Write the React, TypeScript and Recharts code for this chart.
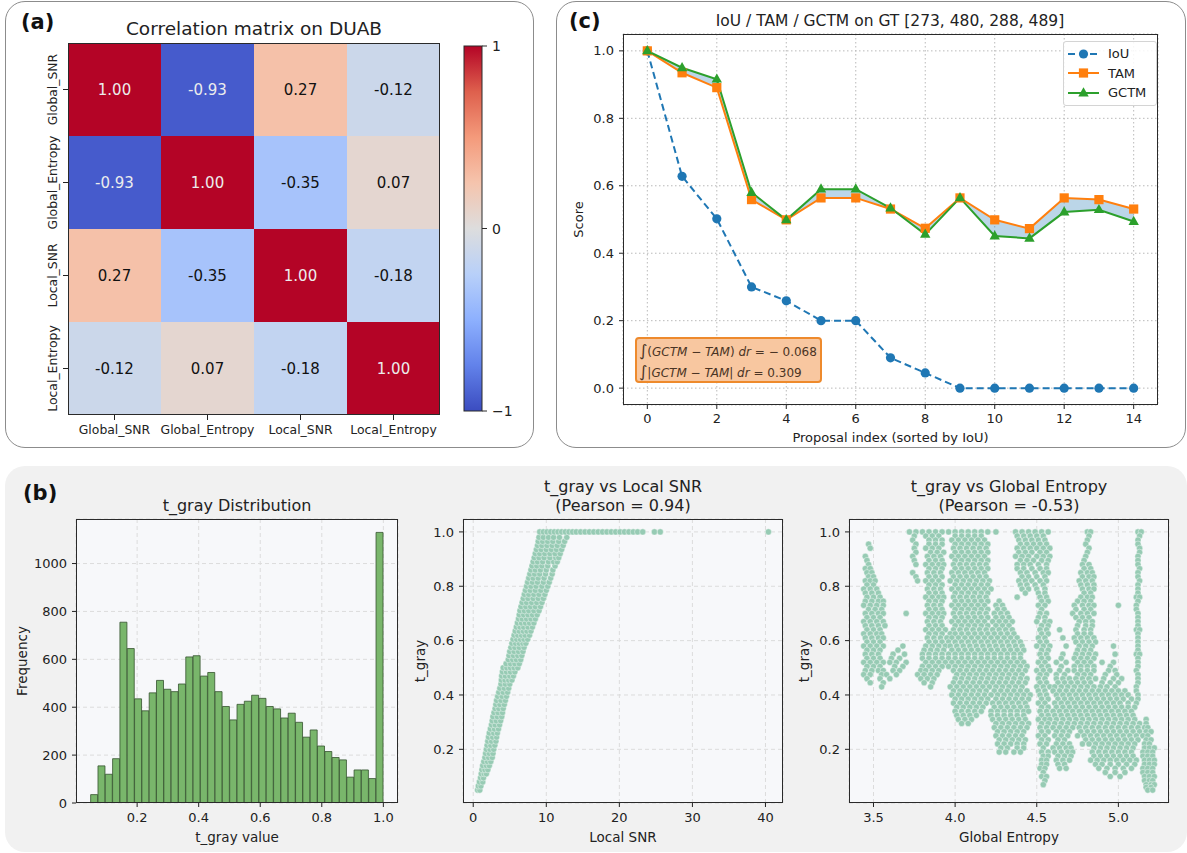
import React from 'react';
import {
  BarChart,
  Bar,
  XAxis,
  YAxis,
  ComposedChart,
  Line,
  Area,
  Legend,
  ScatterChart,
  Scatter,
  CartesianGrid,
  Label,
} from 'recharts';

const FONT = '"DejaVu Sans", Roboto, sans-serif';
const INK = '#222222';

// ---------- (a) correlation matrix ----------
const featureNames = ['Global_SNR', 'Global_Entropy', 'Local_SNR', 'Local_Entropy'];
const corrGlobalSnr = [1.0, -0.93, 0.27, -0.12];
const corrGlobalEntropy = [-0.93, 1.0, -0.35, 0.07];
const corrLocalSnr = [0.27, -0.35, 1.0, -0.18];
const corrLocalEntropy = [-0.12, 0.07, -0.18, 1.0];
const corrMatrix = [corrGlobalSnr, corrGlobalEntropy, corrLocalSnr, corrLocalEntropy];
const colorbarTicks = [1, 0, -1];

// ---------- (c) IoU / TAM / GCTM ----------
const proposalIndex = [0, 1, 2, 3, 4, 5, 6, 7, 8, 9, 10, 11, 12, 13, 14];
const iouScores = [1.0, 0.628, 0.502, 0.3, 0.259, 0.2, 0.2, 0.09, 0.045, 0, 0, 0, 0, 0, 0];
const tamScores = [1.0, 0.935, 0.891, 0.559, 0.499, 0.564, 0.564, 0.531, 0.474, 0.564, 0.499, 0.473, 0.564, 0.559, 0.531];
const gctmScores = [1.0, 0.95, 0.916, 0.58, 0.499, 0.59, 0.59, 0.534, 0.456, 0.564, 0.451, 0.444, 0.522, 0.529, 0.494];
const signedGap = -0.068;
const absGap = 0.309;

// ---------- (b) t_gray histogram ----------
const binCenters = [
  0.0609, 0.08468, 0.10845, 0.13223, 0.156, 0.17978, 0.20355, 0.22733, 0.2511, 0.27488,
  0.29865, 0.32243, 0.3462, 0.36998, 0.39375, 0.41753, 0.4413, 0.46508, 0.48885, 0.51263,
  0.5364, 0.56018, 0.58395, 0.60773, 0.6315, 0.65528, 0.67905, 0.70283, 0.7266, 0.75038,
  0.77415, 0.79793, 0.8217, 0.84548, 0.86925, 0.89303, 0.9168, 0.94058, 0.96435, 0.98813,
];
const binCounts = [
  35, 155, 120, 185, 755, 645, 435, 385, 460, 512,
  475, 465, 497, 610, 615, 530, 545, 465, 403, 347,
  412, 425, 450, 437, 403, 393, 355, 375, 337, 275,
  305, 238, 215, 190, 180, 108, 138, 138, 102, 1130,
];

// ---------- (b) t_gray vs Local SNR : rows of [t_gray, local SNR values] ----------
const snrRows: [number, number[]][] = [
  [0.05, [0.6, 0.9]],
  [0.065, [0.7, 1.05]],
  [0.08, [0.85, 1.3]],
  [0.095, [1.0, 1.4]],
  [0.11, [1.1, 1.5, 1.8]],
  [0.125, [1.2, 1.6, 2.0]],
  [0.14, [1.3, 1.8, 2.2]],
  [0.155, [1.45, 1.95, 2.4]],
  [0.17, [1.6, 2.1, 2.6]],
  [0.185, [1.7, 2.2, 2.7]],
  [0.2, [1.8, 2.3, 2.8]],
  [0.215, [1.9, 2.4, 2.95]],
  [0.23, [2.0, 2.5, 3.1]],
  [0.245, [2.1, 2.65, 3.2]],
  [0.26, [2.2, 2.8, 3.3]],
  [0.275, [2.35, 2.9, 3.45]],
  [0.29, [2.5, 3.0, 3.6]],
  [0.305, [2.6, 3.15, 3.75]],
  [0.32, [2.7, 3.3, 3.9]],
  [0.335, [2.85, 3.4, 4.0]],
  [0.35, [3.0, 3.5, 4.1]],
  [0.365, [3.1, 3.65, 4.25]],
  [0.38, [3.2, 3.8, 4.4]],
  [0.395, [3.35, 3.95, 4.55]],
  [0.41, [3.5, 4.1, 4.7]],
  [0.425, [3.65, 4.25, 4.85]],
  [0.44, [3.8, 4.4, 5.0]],
  [0.455, [3.85, 4.35, 4.85, 5.3]],
  [0.47, [3.9, 4.4, 5.0, 5.5]],
  [0.485, [4.0, 4.55, 5.1, 5.7]],
  [0.5, [4.1, 4.6, 5.1, 5.6, 6.1]],
  [0.515, [4.5, 5.1, 5.7, 6.3]],
  [0.53, [4.8, 5.4, 5.9, 6.5]],
  [0.545, [4.9, 5.5, 6.1, 6.65]],
  [0.56, [5.0, 5.6, 6.2, 6.8]],
  [0.575, [5.15, 5.7, 6.3, 6.95]],
  [0.59, [5.3, 5.8, 6.3, 6.8, 7.2]],
  [0.605, [5.45, 5.95, 6.45, 6.95, 7.45]],
  [0.62, [5.6, 6.1, 6.6, 7.1, 7.7]],
  [0.635, [5.75, 6.3, 6.85, 7.35, 7.9]],
  [0.65, [5.9, 6.4, 6.9, 7.5, 8.1]],
  [0.665, [6.05, 6.6, 7.15, 7.7, 8.3]],
  [0.68, [6.2, 6.7, 7.3, 7.9, 8.5]],
  [0.695, [6.3, 6.9, 7.5, 8.1, 8.75]],
  [0.71, [6.4, 7.0, 7.6, 8.3, 9.0]],
  [0.725, [6.55, 7.2, 7.85, 8.5, 9.2]],
  [0.74, [6.7, 7.3, 8.0, 8.7, 9.4]],
  [0.755, [6.85, 7.5, 8.2, 8.9, 9.6]],
  [0.77, [7.0, 7.6, 8.3, 9.0, 9.8]],
  [0.785, [7.15, 7.8, 8.5, 9.25, 10.0]],
  [0.8, [7.3, 7.9, 8.6, 9.4, 10.2]],
  [0.815, [7.45, 8.1, 8.8, 9.6, 10.4]],
  [0.83, [7.6, 8.2, 8.9, 9.7, 10.6]],
  [0.845, [7.75, 8.4, 9.1, 9.9, 10.8]],
  [0.86, [7.9, 8.5, 9.2, 10.0, 10.9]],
  [0.875, [8.05, 8.7, 9.4, 10.2, 11.2]],
  [0.89, [8.2, 8.8, 9.5, 10.3, 11.0, 11.5]],
  [0.905, [8.35, 9.0, 9.7, 10.5, 11.3, 11.7]],
  [0.92, [8.5, 9.1, 9.8, 10.5, 11.2, 11.9]],
  [0.935, [8.65, 9.3, 10.0, 10.7, 11.4, 12.1]],
  [0.95, [8.8, 9.4, 10.1, 10.8, 11.5, 12.3]],
  [0.965, [8.9, 9.5, 10.2, 10.9, 11.7, 12.5]],
  [0.98, [9.0, 9.6, 10.3, 11.0, 11.8, 12.8]],
  [1.0, [
    9.1, 9.6, 10.1, 10.6, 11.1, 11.6, 12.1, 12.6, 13.1, 13.6, 14.1, 14.7, 15.3, 15.9, 16.5,
    17.1, 17.7, 18.3, 18.9, 19.5, 20.1, 20.7, 21.3, 21.9, 22.5, 23.2, 24.8, 25.6, 40.4,
  ]],
];

// ---------- (b) t_gray vs Global Entropy : rows of [t_gray, entropy values] ----------
const entropyRows: [number, number[]][] = [
  [1.0, [3.72, 3.76, 3.8, 3.84, 3.88, 3.92, 3.96, 4.0, 4.04, 4.08, 4.12, 4.16, 4.2, 4.25, 4.37, 4.41, 4.45, 4.49, 4.53, 4.57, 4.81, 4.83, 5.12, 5.14]],
  [0.985, [3.75, 3.82, 3.86, 3.9, 4.0, 4.04, 4.08, 4.12, 4.16, 4.38, 4.42, 4.46, 4.5, 4.54, 4.82, 5.13]],
  [0.97, [3.74, 3.84, 3.88, 3.92, 3.98, 4.02, 4.06, 4.1, 4.14, 4.18, 4.39, 4.43, 4.47, 4.51, 4.55, 4.81, 5.12]],
  [0.955, [3.47, 3.76, 3.84, 3.88, 3.92, 4.0, 4.04, 4.08, 4.12, 4.16, 4.2, 4.4, 4.44, 4.48, 4.52, 4.56, 4.8, 5.12]],
  [0.94, [3.48, 3.75, 3.82, 3.86, 3.9, 3.99, 4.03, 4.07, 4.11, 4.15, 4.19, 4.38, 4.42, 4.46, 4.5, 4.54, 4.58, 4.82, 5.13]],
  [0.925, [3.76, 3.85, 3.89, 3.93, 4.0, 4.04, 4.08, 4.12, 4.16, 4.2, 4.39, 4.43, 4.47, 4.52, 4.56, 4.81, 5.13]],
  [0.91, [3.45, 3.74, 3.83, 3.87, 3.91, 3.98, 4.02, 4.06, 4.1, 4.14, 4.18, 4.37, 4.41, 4.45, 4.5, 4.54, 4.58, 4.8, 5.12]],
  [0.895, [3.46, 3.75, 3.84, 3.88, 3.92, 4.0, 4.04, 4.08, 4.12, 4.16, 4.2, 4.4, 4.44, 4.48, 4.53, 4.57, 4.79, 5.12]],
  [0.88, [3.47, 3.76, 3.82, 3.86, 3.9, 3.93, 3.99, 4.03, 4.07, 4.11, 4.15, 4.19, 4.38, 4.42, 4.46, 4.51, 4.56, 4.78, 4.82, 5.12]],
  [0.865, [3.45, 3.48, 3.84, 3.88, 3.92, 4.0, 4.04, 4.08, 4.12, 4.16, 4.2, 4.38, 4.42, 4.47, 4.52, 4.56, 4.79, 4.83, 5.13]],
  [0.85, [3.46, 3.49, 3.74, 3.83, 3.87, 3.91, 3.98, 4.02, 4.06, 4.1, 4.14, 4.18, 4.4, 4.44, 4.49, 4.54, 4.57, 4.77, 4.81, 4.84, 5.12]],
  [0.835, [3.47, 3.5, 3.76, 3.84, 3.88, 3.92, 3.99, 4.03, 4.07, 4.11, 4.15, 4.19, 4.41, 4.45, 4.5, 4.55, 4.78, 4.82, 4.85, 5.12]],
  [0.82, [3.45, 3.48, 3.51, 3.77, 3.82, 3.86, 3.9, 3.97, 4.01, 4.05, 4.09, 4.13, 4.17, 4.21, 4.39, 4.43, 4.47, 4.52, 4.56, 4.76, 4.8, 4.84, 5.13]],
  [0.805, [3.46, 3.5, 3.84, 3.88, 3.92, 4.0, 4.04, 4.08, 4.12, 4.16, 4.2, 4.4, 4.44, 4.49, 4.54, 4.77, 4.81, 4.85, 5.12]],
  [0.79, [3.44, 3.48, 3.52, 3.83, 3.87, 3.91, 3.98, 4.02, 4.06, 4.1, 4.14, 4.18, 4.22, 4.41, 4.45, 4.5, 4.55, 4.78, 4.82, 4.85, 5.12]],
  [0.775, [3.45, 3.49, 3.53, 3.84, 3.88, 3.92, 4.0, 4.04, 4.08, 4.12, 4.16, 4.2, 4.43, 4.51, 4.55, 4.79, 4.83, 5.12]],
  [0.76, [3.46, 3.5, 3.54, 3.82, 3.86, 3.9, 3.93, 3.99, 4.03, 4.07, 4.11, 4.15, 4.19, 4.38, 4.52, 4.56, 4.77, 4.81, 4.84, 5.11, 5.13]],
  [0.745, [3.45, 3.49, 3.53, 3.56, 3.84, 3.88, 3.92, 4.0, 4.04, 4.08, 4.12, 4.16, 4.2, 4.27, 4.53, 4.57, 4.75, 4.79, 4.83, 5.12]],
  [0.73, [3.44, 3.48, 3.52, 3.56, 3.83, 3.87, 3.91, 3.98, 4.02, 4.06, 4.1, 4.14, 4.18, 4.25, 4.29, 4.51, 4.55, 4.73, 4.78, 4.82, 4.85, 5.0, 5.11]],
  [0.715, [3.47, 3.51, 3.55, 3.84, 3.88, 3.92, 4.0, 4.04, 4.08, 4.12, 4.16, 4.2, 4.26, 4.3, 4.53, 4.74, 4.79, 4.83, 5.11]],
  [0.7, [3.45, 3.49, 3.53, 3.56, 3.7, 3.82, 3.86, 3.9, 3.93, 3.99, 4.03, 4.07, 4.11, 4.15, 4.19, 4.24, 4.28, 4.32, 4.52, 4.56, 4.72, 4.77, 4.81, 4.85, 5.12]],
  [0.685, [3.46, 3.5, 3.54, 3.84, 3.88, 3.92, 4.0, 4.04, 4.08, 4.12, 4.16, 4.2, 4.25, 4.29, 4.33, 4.51, 4.55, 4.74, 4.78, 4.82, 5.12]],
  [0.67, [3.44, 3.48, 3.52, 3.56, 3.83, 3.87, 3.91, 3.98, 4.02, 4.06, 4.1, 4.14, 4.18, 4.23, 4.27, 4.31, 4.35, 4.5, 4.55, 4.58, 4.76, 4.8, 4.84, 5.12]],
  [0.655, [3.45, 3.49, 3.53, 3.57, 3.84, 3.88, 3.92, 4.0, 4.04, 4.08, 4.12, 4.16, 4.2, 4.25, 4.29, 4.33, 4.53, 4.57, 4.75, 4.8, 4.84, 5.12]],
  [0.64, [3.46, 3.5, 3.54, 3.82, 3.86, 3.9, 3.94, 3.99, 4.03, 4.07, 4.11, 4.15, 4.19, 4.23, 4.27, 4.31, 4.35, 4.52, 4.56, 4.64, 4.74, 4.79, 4.83, 5.11, 5.13]],
  [0.625, [3.44, 3.48, 3.52, 3.55, 3.84, 3.88, 3.92, 3.97, 4.0, 4.04, 4.08, 4.12, 4.16, 4.2, 4.24, 4.28, 4.32, 4.36, 4.53, 4.57, 4.75, 4.79, 4.83, 5.12]],
  [0.61, [3.45, 3.49, 3.53, 3.56, 3.83, 3.87, 3.91, 3.95, 3.98, 4.02, 4.06, 4.1, 4.14, 4.18, 4.22, 4.26, 4.3, 4.34, 4.38, 4.51, 4.55, 4.66, 4.73, 4.77, 4.81, 4.85, 5.12]],
  [0.595, [3.46, 3.5, 3.54, 3.84, 3.88, 3.92, 3.96, 4.0, 4.04, 4.08, 4.12, 4.16, 4.2, 4.24, 4.28, 4.32, 4.36, 4.4, 4.52, 4.56, 4.74, 4.78, 4.82, 4.86, 5.12]],
  [0.58, [3.44, 3.48, 3.52, 3.56, 3.68, 3.82, 3.86, 3.9, 3.94, 3.97, 4.01, 4.05, 4.09, 4.13, 4.17, 4.21, 4.25, 4.29, 4.33, 4.37, 4.41, 4.5, 4.54, 4.58, 4.68, 4.76, 4.8, 4.84, 4.97, 5.12]],
  [0.565, [3.46, 3.5, 3.54, 3.65, 3.81, 3.85, 3.89, 3.93, 3.98, 4.02, 4.06, 4.1, 4.14, 4.18, 4.22, 4.26, 4.3, 4.34, 4.38, 4.42, 4.53, 4.57, 4.75, 4.79, 4.83, 5.12]],
  [0.55, [3.45, 3.49, 3.53, 3.62, 3.69, 3.8, 3.84, 3.88, 3.92, 3.96, 4.0, 4.04, 4.08, 4.12, 4.16, 4.2, 4.24, 4.28, 4.32, 4.36, 4.4, 4.52, 4.56, 4.66, 4.74, 4.78, 4.82, 4.86, 4.98, 5.11, 5.13]],
  [0.535, [3.46, 3.5, 3.54, 3.61, 3.66, 3.8, 3.84, 3.88, 3.92, 3.96, 4.0, 4.04, 4.08, 4.12, 4.16, 4.2, 4.24, 4.28, 4.32, 4.36, 4.4, 4.53, 4.57, 4.65, 4.73, 4.77, 4.81, 4.85, 5.12]],
  [0.52, [3.44, 3.48, 3.52, 3.56, 3.6, 3.64, 3.7, 3.82, 3.86, 3.9, 3.94, 3.98, 4.02, 4.06, 4.1, 4.14, 4.18, 4.22, 4.26, 4.3, 4.34, 4.38, 4.42, 4.51, 4.55, 4.62, 4.68, 4.75, 4.79, 4.83, 4.9, 4.97, 5.12]],
  [0.505, [3.46, 3.5, 3.54, 3.63, 3.68, 3.8, 3.84, 3.88, 3.92, 3.96, 4.0, 4.04, 4.08, 4.12, 4.16, 4.2, 4.24, 4.28, 4.32, 4.36, 4.4, 4.44, 4.53, 4.57, 4.65, 4.73, 4.77, 4.81, 4.85, 4.95, 5.12]],
  [0.49, [3.45, 3.49, 3.53, 3.56, 3.62, 3.66, 3.79, 3.82, 3.86, 3.9, 3.99, 4.03, 4.07, 4.11, 4.15, 4.19, 4.23, 4.27, 4.31, 4.35, 4.39, 4.43, 4.5, 4.54, 4.58, 4.64, 4.69, 4.73, 4.77, 4.81, 4.85, 4.94, 4.98, 5.11]],
  [0.475, [3.44, 3.48, 3.55, 3.58, 3.64, 3.77, 3.81, 3.85, 3.89, 4.01, 4.05, 4.09, 4.13, 4.17, 4.21, 4.25, 4.29, 4.33, 4.37, 4.41, 4.52, 4.56, 4.62, 4.67, 4.75, 4.79, 4.83, 4.92, 4.99, 5.12]],
  [0.46, [3.46, 3.54, 3.6, 3.79, 3.83, 3.87, 4.0, 4.04, 4.08, 4.12, 4.16, 4.2, 4.24, 4.28, 4.32, 4.36, 4.4, 4.44, 4.51, 4.55, 4.62, 4.66, 4.7, 4.74, 4.78, 4.82, 4.86, 4.91, 4.97, 5.02, 5.12]],
  [0.445, [3.48, 3.56, 3.81, 3.86, 3.99, 4.03, 4.07, 4.11, 4.15, 4.19, 4.23, 4.27, 4.31, 4.35, 4.39, 4.43, 4.52, 4.56, 4.63, 4.67, 4.71, 4.75, 4.79, 4.83, 4.9, 4.95, 5.0, 5.12]],
  [0.43, [3.55, 3.85, 3.97, 4.01, 4.05, 4.09, 4.13, 4.17, 4.21, 4.25, 4.29, 4.33, 4.37, 4.41, 4.5, 4.54, 4.58, 4.61, 4.65, 4.69, 4.73, 4.77, 4.81, 4.85, 4.89, 4.93, 4.98, 5.11]],
  [0.415, [3.99, 4.03, 4.07, 4.11, 4.15, 4.19, 4.24, 4.28, 4.32, 4.36, 4.4, 4.44, 4.51, 4.55, 4.6, 4.64, 4.68, 4.72, 4.76, 4.8, 4.84, 4.88, 4.92, 4.96, 5.0, 5.04, 5.11]],
  [0.4, [3.98, 4.02, 4.06, 4.1, 4.14, 4.18, 4.22, 4.26, 4.3, 4.34, 4.38, 4.42, 4.46, 4.52, 4.56, 4.62, 4.66, 4.7, 4.74, 4.78, 4.82, 4.86, 4.9, 4.94, 4.98, 5.02, 5.06, 5.12]],
  [0.385, [4.0, 4.04, 4.08, 4.12, 4.16, 4.2, 4.25, 4.29, 4.33, 4.37, 4.41, 4.45, 4.53, 4.57, 4.63, 4.67, 4.71, 4.75, 4.79, 4.83, 4.87, 4.91, 4.95, 4.99, 5.03, 5.08, 5.12]],
  [0.37, [3.99, 4.03, 4.07, 4.11, 4.15, 4.19, 4.23, 4.27, 4.31, 4.35, 4.39, 4.43, 4.51, 4.55, 4.61, 4.65, 4.69, 4.73, 4.77, 4.81, 4.85, 4.89, 4.93, 4.97, 5.01, 5.06, 5.11]],
  [0.355, [4.01, 4.05, 4.09, 4.13, 4.17, 4.24, 4.28, 4.32, 4.36, 4.4, 4.44, 4.53, 4.57, 4.62, 4.66, 4.7, 4.74, 4.78, 4.82, 4.86, 4.9, 4.94, 4.98, 5.02, 5.06, 5.1]],
  [0.34, [4.0, 4.04, 4.08, 4.12, 4.16, 4.22, 4.26, 4.3, 4.34, 4.38, 4.42, 4.45, 4.52, 4.56, 4.6, 4.64, 4.68, 4.72, 4.76, 4.8, 4.84, 4.88, 4.92, 4.96, 5.0, 5.04, 5.08]],
  [0.325, [4.01, 4.05, 4.09, 4.13, 4.22, 4.26, 4.3, 4.34, 4.38, 4.42, 4.53, 4.57, 4.61, 4.65, 4.69, 4.73, 4.77, 4.81, 4.85, 4.89, 4.93, 4.97, 5.01, 5.05, 5.09]],
  [0.31, [4.02, 4.06, 4.1, 4.23, 4.27, 4.31, 4.35, 4.39, 4.43, 4.51, 4.55, 4.58, 4.62, 4.66, 4.7, 4.74, 4.78, 4.82, 4.86, 4.9, 4.94, 4.98, 5.02, 5.06, 5.1, 5.17]],
  [0.295, [4.04, 4.08, 4.25, 4.29, 4.33, 4.37, 4.41, 4.45, 4.53, 4.57, 4.61, 4.65, 4.69, 4.73, 4.77, 4.81, 4.85, 4.89, 4.93, 4.97, 5.01, 5.05, 5.09, 5.13, 5.17]],
  [0.28, [4.24, 4.28, 4.32, 4.36, 4.4, 4.44, 4.52, 4.56, 4.6, 4.64, 4.68, 4.72, 4.76, 4.8, 4.84, 4.88, 4.92, 4.96, 5.0, 5.04, 5.08, 5.12, 5.16, 5.18]],
  [0.265, [4.26, 4.3, 4.34, 4.38, 4.42, 4.53, 4.57, 4.62, 4.66, 4.7, 4.77, 4.81, 4.85, 4.89, 4.93, 4.97, 5.01, 5.05, 5.09, 5.13, 5.17, 5.2]],
  [0.25, [4.25, 4.29, 4.33, 4.37, 4.41, 4.51, 4.55, 4.61, 4.65, 4.69, 4.75, 4.79, 4.83, 4.87, 4.91, 4.95, 4.99, 5.03, 5.07, 5.11, 5.15, 5.18]],
  [0.235, [4.27, 4.31, 4.35, 4.39, 4.43, 4.53, 4.57, 4.63, 4.67, 4.8, 4.84, 4.88, 4.92, 4.96, 5.0, 5.04, 5.08, 5.12, 5.17, 5.2]],
  [0.22, [4.26, 4.3, 4.34, 4.38, 4.42, 4.52, 4.56, 4.62, 4.66, 4.7, 4.78, 4.82, 4.86, 4.9, 4.94, 4.98, 5.02, 5.06, 5.1, 5.16, 5.19]],
  [0.205, [4.28, 4.32, 4.38, 4.42, 4.54, 4.6, 4.64, 4.68, 4.71, 4.85, 4.89, 4.93, 4.97, 5.01, 5.05, 5.09, 5.16, 5.19, 5.22]],
  [0.19, [4.27, 4.31, 4.36, 4.4, 4.53, 4.57, 4.61, 4.65, 4.69, 4.72, 4.84, 4.88, 4.92, 4.96, 5.0, 5.04, 5.08, 5.15, 5.18, 5.21]],
  [0.175, [4.54, 4.57, 4.63, 4.67, 4.71, 4.85, 4.89, 4.93, 4.97, 5.01, 5.05, 5.09, 5.15, 5.18, 5.21]],
  [0.16, [4.53, 4.56, 4.62, 4.66, 4.7, 4.83, 4.87, 4.91, 4.95, 4.99, 5.03, 5.07, 5.11, 5.16, 5.19, 5.22]],
  [0.145, [4.53, 4.56, 4.63, 4.67, 4.86, 4.9, 4.95, 5.0, 5.05, 5.1, 5.16, 5.19, 5.22]],
  [0.13, [4.52, 4.55, 4.64, 4.68, 4.88, 4.93, 4.98, 5.03, 5.08, 5.15, 5.18, 5.21]],
  [0.115, [4.54, 4.92, 4.98, 5.04, 5.15, 5.18, 5.21]],
  [0.1, [4.53, 4.56, 4.95, 5.01, 5.16, 5.19, 5.22]],
  [0.085, [4.55, 5.16, 5.19, 5.21]],
  [0.07, [4.54, 5.17, 5.2, 5.22]],
  [0.06, [5.17, 5.2]],
  [0.05, [5.18, 5.21]],
];

// coolwarm colormap (Moreland), sampled every 1/8
const coolwarmStops = [
  [59, 76, 192], [98, 130, 234], [141, 176, 254], [184, 208, 249], [221, 221, 221],
  [245, 196, 173], [244, 154, 123], [222, 96, 77], [180, 4, 38],
];
const rgb = (c: number[]) => `rgb(${c[0]},${c[1]},${c[2]})`;
function coolwarm(v: number): string {
  const t = Math.max(0, Math.min(1, (v + 1) / 2)) * (coolwarmStops.length - 1);
  const i = Math.min(coolwarmStops.length - 2, Math.floor(t));
  const f = t - i;
  const a = coolwarmStops[i];
  const b = coolwarmStops[i + 1];
  return rgb(a.map((x, k) => Math.round(x + (b[k] - x) * f)));
}

const lineSeries = [
  { key: 'iou', name: 'IoU', color: '#1f77b4', dash: '7 4', marker: 'circle' },
  { key: 'tam', name: 'TAM', color: '#ff7f0e', dash: undefined, marker: 'square' },
  { key: 'gctm', name: 'GCTM', color: '#2ca02c', dash: undefined, marker: 'triangle' },
];

const heatData = featureNames.map((name, j) => {
  const row: Record<string, string | number> = { name };
  corrMatrix.forEach((r, i) => {
    row[`r${i}`] = 1;
    row[`v${i}`] = r[j];
  });
  return row;
});

const scoreData = proposalIndex.map((idx, i) => ({
  idx,
  iou: iouScores[i],
  tam: tamScores[i],
  gctm: gctmScores[i],
  gap: [tamScores[i], gctmScores[i]],
}));

const histData = binCenters.map((c, i) => ({ c, n: binCounts[i] }));
const snrPoints = snrRows.flatMap(([y, xs]) => xs.map((x) => ({ x, y })));
const entropyPoints = entropyRows.flatMap(([y, xs]) => xs.map((x) => ({ x, y })));

function Marker({ kind, cx, cy, color }: { kind: string; cx: number; cy: number; color: string }) {
  if (kind === 'circle') return <circle cx={cx} cy={cy} r={4.6} fill={color} />;
  if (kind === 'square') return <rect x={cx - 4.6} y={cy - 4.6} width={9.2} height={9.2} fill={color} />;
  return <polygon points={`${cx},${cy - 5.8} ${cx + 5.2},${cy + 3.4} ${cx - 5.2},${cy + 3.4}`} fill={color} />;
}

function ScoreLegend() {
  return (
    <div
      style={{
        background: 'rgba(255,255,255,0.85)',
        border: '1px solid #d4d4d4',
        borderRadius: 3,
        padding: '2px 10px 2px 3px',
        fontSize: 13,
        color: INK,
        fontFamily: FONT,
      }}
    >
      {lineSeries.map((s) => (
        <div key={s.key} style={{ display: 'flex', alignItems: 'center', height: 19.5 }}>
          <svg width={33} height={14}>
            <line x1={1} x2={32} y1={7} y2={7} stroke={s.color} strokeWidth={2} strokeDasharray={s.dash} />
            <Marker kind={s.marker} cx={16.5} cy={7} color={s.color} />
          </svg>
          <span style={{ marginLeft: 8 }}>{s.name}</span>
        </div>
      ))}
    </div>
  );
}

function Frame({ left, top, width, height }: { left: number; top: number; width: number; height: number }) {
  return (
    <div
      style={{
        position: 'absolute',
        left,
        top,
        width,
        height,
        border: '1px solid #2a2a2a',
        boxSizing: 'border-box',
        pointerEvents: 'none',
      }}
    />
  );
}

function Title({ x, y, size, children, bold }: { x: number; y: number; size: number; children: React.ReactNode; bold?: boolean }) {
  return (
    <div
      style={{
        position: 'absolute',
        left: x,
        top: y,
        transform: bold ? 'translate(0, -50%)' : 'translate(-50%, -50%)',
        fontSize: size,
        fontWeight: bold ? 'bold' : 'normal',
        whiteSpace: 'nowrap',
        textAlign: 'center',
        lineHeight: 1.2,
        color: bold ? '#111' : INK,
      }}
    >
      {children}
    </div>
  );
}

const tickStyle = (size: number) => ({ fontSize: size, fill: INK });
const makeDot = (r: number) => (p: any) => (
  <circle cx={p.cx} cy={p.cy} r={r} fill="#97cbb4" stroke="#ffffff" strokeWidth={0.5} strokeOpacity={0.8} />
);
const snrDot = makeDot(3.1);
const entropyDot = makeDot(3.1);

export default function App() {
  const cbTop = 10;
  const cbHeight = 365;
  return (
    <div
      style={{
        position: 'absolute',
        left: 0,
        top: 0,
        width: 1187,
        height: 853,
        background: '#ffffff',
        fontFamily: FONT,
        overflow: 'hidden',
      }}
    >
      {/* panel boxes */}
      <div style={{ position: 'absolute', left: 5, top: 1, width: 529, height: 447, border: '1.5px solid #8c8c8c', borderRadius: 20, boxSizing: 'border-box' }} />
      <div style={{ position: 'absolute', left: 556, top: 1, width: 630, height: 447, border: '1.5px solid #8c8c8c', borderRadius: 20, boxSizing: 'border-box' }} />
      <div style={{ position: 'absolute', left: 5, top: 466, width: 1182, height: 386, background: '#f1f1f1', borderRadius: 20 }} />

      {/* (a) correlation matrix */}
      <div style={{ position: 'absolute', left: 0, top: 0 }}>
        <BarChart width={536} height={448} data={heatData} margin={{ top: 43, right: 96, bottom: 0, left: 0 }} barCategoryGap={0} barGap={0}>
          <XAxis dataKey="name" type="category" height={33} axisLine={false} tickSize={5} tickMargin={5} tick={tickStyle(12.4)} tickLine={{ stroke: INK }} />
          <YAxis
            type="number"
            domain={[0, 4]}
            ticks={[0.5, 1.5, 2.5, 3.5]}
            allowDataOverflow
            width={68}
            axisLine={false}
            tickSize={5}
            tickLine={{ stroke: INK }}
            tick={(p: any) => (
              <text
                x={p.x - 9}
                y={p.y}
                transform={`rotate(-90 ${p.x - 9} ${p.y})`}
                textAnchor="middle"
                dominantBaseline="central"
                fontSize={12.4}
                fill={INK}
              >
                {featureNames[3 - Math.floor(p.payload.value)]}
              </text>
            )}
          />
          {[3, 2, 1, 0].map((i) => (
            <Bar
              key={i}
              dataKey={`r${i}`}
              stackId="m"
              isAnimationActive={false}
              shape={(p: any) => {
                const v = Number(p.payload[`v${i}`]);
                return (
                  <g>
                    <rect x={p.x} y={p.y} width={p.width} height={p.height} fill={coolwarm(v)} />
                    <text
                      x={p.x + p.width / 2}
                      y={p.y + p.height / 2}
                      textAnchor="middle"
                      dominantBaseline="central"
                      fontSize={15}
                      fill={Math.abs(v) > 0.6 ? '#ececec' : '#111'}
                    >
                      {v.toFixed(2)}
                    </text>
                  </g>
                );
              }}
            />
          ))}
        </BarChart>
      </div>
      <Frame left={68} top={43} width={372} height={372} />
      <svg style={{ position: 'absolute', left: 455, top: 36, overflow: 'visible' }} width={70} height={390}>
        <defs>
          <linearGradient id="coolwarmBar" x1="0" y1="0" x2="0" y2="1">
            {coolwarmStops.map((c, k) => (
              <stop key={k} offset={`${(100 * k) / (coolwarmStops.length - 1)}%`} stopColor={rgb(coolwarmStops[coolwarmStops.length - 1 - k])} />
            ))}
          </linearGradient>
        </defs>
        <rect x={9} y={cbTop} width={18} height={cbHeight} fill="url(#coolwarmBar)" stroke="#2a2a2a" strokeWidth={1} />
        {colorbarTicks.map((t) => {
          const y = cbTop + ((1 - t) / 2) * cbHeight;
          return (
            <g key={t}>
              <line x1={27} x2={32} y1={y} y2={y} stroke="#2a2a2a" />
              <text x={37} y={y} dominantBaseline="central" fontSize={14} fill={INK}>
                {t < 0 ? `\u2212${Math.abs(t)}` : `${t}`}
              </text>
            </g>
          );
        })}
      </svg>
      <Title x={254} y={29} size={18.5}>Correlation matrix on DUAB</Title>
      <Title x={21} y={23} size={21} bold>(a)</Title>

      {/* (c) score curves */}
      <div style={{ position: 'absolute', left: 556, top: 0 }}>
        <ComposedChart width={631} height={448} data={scoreData} margin={{ top: 34, right: 29, bottom: 0, left: 0 }}>
          <CartesianGrid stroke="#b9b9b9" strokeDasharray="1.5 2.5" />
          <XAxis
            dataKey="idx"
            type="number"
            domain={[-0.7, 14.7]}
            ticks={[0, 2, 4, 6, 8, 10, 12, 14]}
            allowDataOverflow
            height={43}
            axisLine={false}
            tickSize={4}
            tickMargin={5}
            tick={tickStyle(13)}
            tickLine={{ stroke: INK }}
          >
            <Label value="Proposal index (sorted by IoU)" position="insideBottom" offset={6} fontSize={13} fill={INK} />
          </XAxis>
          <YAxis
            type="number"
            domain={[-0.05, 1.05]}
            ticks={[0, 0.2, 0.4, 0.6, 0.8, 1.0]}
            tickFormatter={(v: number) => v.toFixed(1)}
            allowDataOverflow
            width={67}
            axisLine={false}
            tickSize={4}
            tickMargin={5}
            tick={tickStyle(13)}
            tickLine={{ stroke: INK }}
          >
            <Label value="Score" angle={-90} position="insideLeft" offset={22} fontSize={13} fill={INK} style={{ textAnchor: 'middle' }} />
          </YAxis>
          <Area type="linear" dataKey="gap" stroke="none" fill="#1f77b4" fillOpacity={0.3} isAnimationActive={false} />
          {lineSeries.map((s) => (
            <Line
              key={s.key}
              type="linear"
              dataKey={s.key}
              name={s.name}
              stroke={s.color}
              strokeWidth={2}
              strokeDasharray={s.dash}
              isAnimationActive={false}
              dot={(p: any) => <Marker key={`${s.key}-${p.index}`} kind={s.marker} cx={p.cx} cy={p.cy} color={s.color} />}
              activeDot={false}
            />
          ))}
          <Legend
            layout="vertical"
            align="center"
            verticalAlign="middle"
            wrapperStyle={{ top: 41, left: 507, width: 'auto' }}
            content={() => <ScoreLegend />}
          />
        </ComposedChart>
      </div>
      <Frame left={623} top={34} width={535} height={371} />
      <div
        style={{
          position: 'absolute',
          left: 635,
          top: 337,
          height: 46,
          boxSizing: 'border-box',
          border: '2px solid #ee8a2c',
          borderRadius: 4,
          background: '#f8c7a0',
          color: '#4a3424',
          fontSize: 12,
          lineHeight: '19px',
          padding: '2px 3px 0 2px',
          whiteSpace: 'nowrap',
        }}
      >
        <div>
          <span style={{ fontSize: 16 }}>∫</span>(<i>GCTM</i> − <i>TAM</i>) <i>dr</i> = − {Math.abs(signedGap).toFixed(3)}
        </div>
        <div>
          <span style={{ fontSize: 16 }}>∫</span>|<i>GCTM</i> − <i>TAM</i>| <i>dr</i> = {absGap.toFixed(3)}
        </div>
      </div>
      <Title x={890} y={21} size={15.5}>IoU / TAM / GCTM on GT [273, 480, 288, 489]</Title>
      <Title x={569} y={22} size={21} bold>(c)</Title>

      {/* (b) histogram */}
      <div style={{ position: 'absolute', left: 0, top: 460 }}>
        <ComposedChart width={410} height={390} data={histData} margin={{ top: 59, right: 12, bottom: 0, left: 0 }} barCategoryGap={0} barGap={0}>
          <CartesianGrid fill="#f7f8fa" fillOpacity={1} stroke="#dcdcdc" strokeDasharray="4 3" />
          <XAxis
            dataKey="c"
            type="number"
            domain={[0.0014, 1.0476]}
            ticks={[0.2, 0.4, 0.6, 0.8, 1.0]}
            tickFormatter={(v: number) => v.toFixed(1)}
            allowDataOverflow
            height={47}
            axisLine={false}
            tickSize={4}
            tickMargin={6}
            tick={tickStyle(13)}
            tickLine={{ stroke: INK }}
          >
            <Label value="t_gray value" position="insideBottom" offset={8} fontSize={13.5} fill={INK} />
          </XAxis>
          <YAxis
            type="number"
            domain={[0, 1186]}
            ticks={[0, 200, 400, 600, 800, 1000]}
            allowDataOverflow
            width={76}
            axisLine={false}
            tickSize={4}
            tickMargin={5}
            tick={tickStyle(13)}
            tickLine={{ stroke: INK }}
          >
            <Label value="Frequency" angle={-90} position="insideLeft" offset={22} fontSize={13.5} fill={INK} style={{ textAnchor: 'middle' }} />
          </YAxis>
          <Bar dataKey="n" fill="#79b66b" stroke="#35532f" strokeWidth={0.8} isAnimationActive={false} />
        </ComposedChart>
      </div>
      <Frame left={76} top={519} width={322} height={284} />
      <Title x={237} y={506} size={16}>t_gray Distribution</Title>

      {/* (b) t_gray vs Local SNR */}
      <div style={{ position: 'absolute', left: 400, top: 460 }}>
        <ScatterChart width={395} height={390} margin={{ top: 59, right: 12, bottom: 0, left: 0 }}>
          <CartesianGrid fill="#f7f8fa" fillOpacity={1} stroke="#dcdcdc" strokeDasharray="4 3" />
          <XAxis
            dataKey="x"
            type="number"
            domain={[-1.4, 42.4]}
            ticks={[0, 10, 20, 30, 40]}
            allowDataOverflow
            height={47}
            axisLine={false}
            tickSize={4}
            tickMargin={6}
            tick={tickStyle(13)}
            tickLine={{ stroke: INK }}
          >
            <Label value="Local SNR" position="insideBottom" offset={8} fontSize={13.5} fill={INK} />
          </XAxis>
          <YAxis
            dataKey="y"
            type="number"
            domain={[0.0025, 1.0475]}
            ticks={[0.2, 0.4, 0.6, 0.8, 1.0]}
            tickFormatter={(v: number) => v.toFixed(1)}
            allowDataOverflow
            width={63}
            axisLine={false}
            tickSize={4}
            tickMargin={5}
            tick={tickStyle(13)}
            tickLine={{ stroke: INK }}
          >
            <Label value="t_gray" angle={-90} position="insideLeft" offset={20} fontSize={13.5} fill={INK} style={{ textAnchor: 'middle' }} />
          </YAxis>
          <Scatter data={snrPoints} shape={snrDot} isAnimationActive={false} />
        </ScatterChart>
      </div>
      <Frame left={463} top={519} width={320} height={284} />
      <Title x={623} y={496} size={16}>
        t_gray vs Local SNR
        <br />
        (Pearson = 0.94)
      </Title>

      {/* (b) t_gray vs Global Entropy */}
      <div style={{ position: 'absolute', left: 790, top: 460 }}>
        <ScatterChart width={395} height={390} margin={{ top: 59, right: 16, bottom: 0, left: 0 }}>
          <CartesianGrid fill="#f7f8fa" fillOpacity={1} stroke="#dcdcdc" strokeDasharray="4 3" />
          <XAxis
            dataKey="x"
            type="number"
            domain={[3.35, 5.31]}
            ticks={[3.5, 4.0, 4.5, 5.0]}
            tickFormatter={(v: number) => v.toFixed(1)}
            allowDataOverflow
            height={47}
            axisLine={false}
            tickSize={4}
            tickMargin={6}
            tick={tickStyle(13)}
            tickLine={{ stroke: INK }}
          >
            <Label value="Global Entropy" position="insideBottom" offset={8} fontSize={13.5} fill={INK} />
          </XAxis>
          <YAxis
            dataKey="y"
            type="number"
            domain={[0.0025, 1.0475]}
            ticks={[0.2, 0.4, 0.6, 0.8, 1.0]}
            tickFormatter={(v: number) => v.toFixed(1)}
            allowDataOverflow
            width={59}
            axisLine={false}
            tickSize={4}
            tickMargin={5}
            tick={tickStyle(13)}
            tickLine={{ stroke: INK }}
          >
            <Label value="t_gray" angle={-90} position="insideLeft" offset={14} fontSize={13.5} fill={INK} style={{ textAnchor: 'middle' }} />
          </YAxis>
          <Scatter data={entropyPoints} shape={entropyDot} isAnimationActive={false} />
        </ScatterChart>
      </div>
      <Frame left={849} top={519} width={320} height={284} />
      <Title x={1009} y={496} size={16}>
        t_gray vs Global Entropy
        <br />
        (Pearson = -0.53)
      </Title>
      <Title x={23} y={494} size={21} bold>(b)</Title>
    </div>
  );
}
